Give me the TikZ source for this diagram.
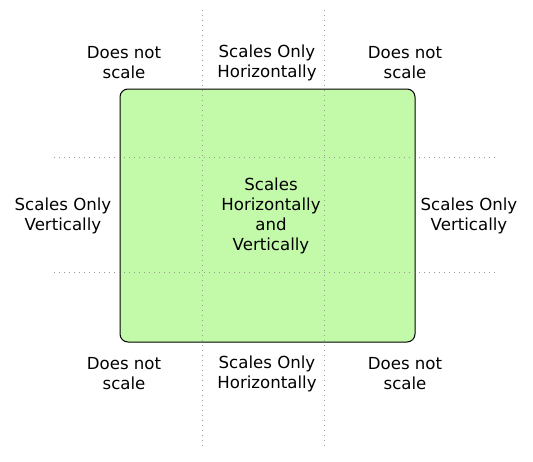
\documentclass[tikz,border=0pt]{standalone}
\usepackage{fontspec}
\setmainfont{DejaVu Sans}
\definecolor{panelgreen}{HTML}{C3FAA9}
\definecolor{guidegray}{HTML}{9A9A9A}
\begin{document}
\begin{tikzpicture}[x=1pt,y=-1pt,
  lbl/.style={align=center,inner sep=0pt,font=\fontsize{16.6}{20}\selectfont},
  guide/.style={draw=guidegray,line width=0.8pt,dash pattern=on 1pt off 4pt},
  panel/.style={draw=black,line width=1pt,fill=panelgreen,rounded corners=8pt}]
\useasboundingbox (0,0) rectangle (533,461);
% panel
\node[panel,minimum width=295pt,minimum height=253pt,inner sep=0pt] (box) at (267.5,215.5) {};
% guides
\coordinate (v1t) at (202,10);  \coordinate (v1b) at (202,447);
\coordinate (v2t) at (324,10);  \coordinate (v2b) at (324,447);
\coordinate (h1l) at (54,157);  \coordinate (h1r) at (495,157);
\coordinate (h2l) at (54,272);  \coordinate (h2r) at (495,272);
\draw[guide] (v1t) -- (v1b);
\draw[guide] (v2t) -- (v2b);
\draw[guide] (h1l) -- (h1r);
\draw[guide] (h2l) -- (h2r);
% labels
\node[lbl] (tl) at (124,63) {Does not\\scale};
\node[lbl] (tm) at (267,63) {Scales Only\\Horizontally};
\node[lbl] (tr) at (405,63) {Does not\\scale};
\node[lbl] (ml) at (63,216) {Scales Only\\Vertically};
\node[lbl] (mm) at (271,216) {Scales\\Horizontally\\and\\Vertically};
\node[lbl] (mr) at (469,216) {Scales Only\\Vertically};
\node[lbl] (bl) at (124,374) {Does not\\scale};
\node[lbl] (bm) at (267,374) {Scales Only\\Horizontally};
\node[lbl] (br) at (405,374) {Does not\\scale};
\end{tikzpicture}
\end{document}
